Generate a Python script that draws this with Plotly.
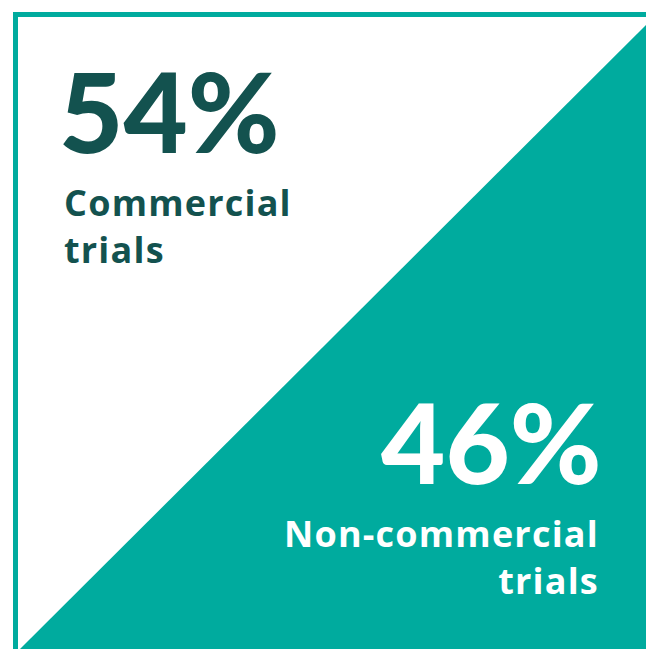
import plotly.graph_objects as go

# Share of trials by sponsor type
shares = [54, 46]
labels = ["Commercial<br>trials", "Non-commercial<br>trials"]

TEAL = "#00AB9E"
DARK = "#13524F"
W, H = 646, 649

fig = go.Figure()

# Pixel-style coordinate system (y grows downward)
fig.update_xaxes(range=[0, W], visible=False, fixedrange=True)
fig.update_yaxes(range=[H, 0], visible=False, fixedrange=True)

shapes = [
    # teal lower-right triangle
    dict(type="path", path=f"M {W} 25 L {W} {H} L 20 {H} Z",
         fillcolor=TEAL, line=dict(width=0), layer="below"),
    # frame: top and left edges
    dict(type="rect", x0=13, x1=W, y0=12, y1=17, fillcolor=TEAL, line=dict(width=0)),
    dict(type="rect", x0=13, x1=18, y0=12, y1=H, fillcolor=TEAL, line=dict(width=0)),
]
fig.update_layout(shapes=shapes)

NUM_FONT = dict(family="Lato", size=111, weight=900)
LBL_FONT = dict(family="Open Sans", size=36, weight="bold")


def spaced_lines(txt, spacing="1.2px"):
    return "<br>".join(
        f"<span style='letter-spacing:{spacing}'>{part}</span>" for part in txt.split("<br>")
    )


annotations = [
    dict(x=57, y=109.5, xanchor="left", yanchor="middle", align="left",
         height=92, valign="middle",
         text=f"{shares[0]}%", showarrow=False,
         font=dict(NUM_FONT, color=DARK)),
    dict(x=62, y=225.5, xanchor="left", yanchor="middle", align="left",
         height=82, valign="middle",
         text=spaced_lines(labels[0]), showarrow=False,
         font=dict(LBL_FONT, color=DARK)),
    dict(x=604, y=440.5, xanchor="right", yanchor="middle", align="right",
         height=92, valign="middle",
         text=f"{shares[1]}%", showarrow=False,
         font=dict(NUM_FONT, color="white")),
    dict(x=601, y=557, xanchor="right", yanchor="middle", align="right",
         height=82, valign="middle",
         text=spaced_lines(labels[1]), showarrow=False,
         font=dict(LBL_FONT, color="white")),
]
fig.update_layout(annotations=annotations)

fig.update_layout(
    width=W, height=H,
    margin=dict(l=0, r=0, t=0, b=0),
    paper_bgcolor="white", plot_bgcolor="white",
    showlegend=False,
)

fig.write_html("out.html", config={"displayModeBar": False})
